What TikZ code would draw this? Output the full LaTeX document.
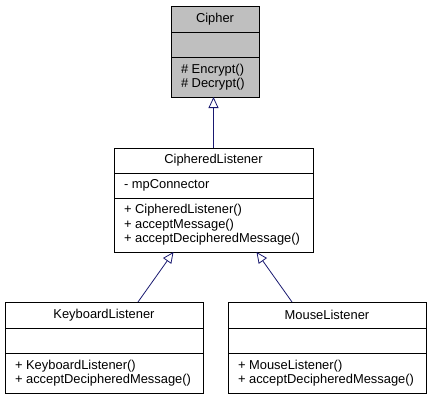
\documentclass[tikz,border=0pt]{standalone}
\usepackage{fontspec}
\setmainfont{Liberation Sans}
\usetikzlibrary{positioning, arrows.meta}
\definecolor{my_navy}{RGB}{25, 25, 112}
\definecolor{my_gray}{RGB}{191, 191, 191}
\tikzset {
  classname/.style = {draw, line width=0.8pt, fill=white, inner sep=0pt, outer sep=0pt, align=center},
  members/.style = {draw, line width=0.8pt, fill=white, inner xsep=10pt, inner ysep=0pt, outer sep=0pt, align=flush left},
  inherit/.style = {-{Triangle[open, length=11pt, width=10pt]}, line width=0.8pt, color=my_navy},
}

\begin{document}
\begin{tikzpicture}[x=1pt, y=1pt, font=\fontsize{12.9}{14.5}\selectfont]
    \useasboundingbox (0,0) rectangle (431,400);

    % base class
    \node[classname, fill=my_gray, minimum width=88pt, minimum height=26pt, anchor=north] (ciphertitle) at (215,394) {Cipher};
    \node[members, fill=my_gray, text width=68pt, minimum height=25pt, below=0pt of ciphertitle] (cipherattr) {};
    \node[members, fill=my_gray, text width=68pt, minimum height=40pt, below=0pt of cipherattr] (cipherops) {\# Encrypt()\\\# Decrypt()};

    % middle class
    \node[classname, minimum width=199pt, minimum height=25pt, anchor=north] (cltitle) at (213.5,252) {CipheredListener};
    \node[members, text width=179pt, minimum height=25pt, below=0pt of cltitle] (clattr) {- mpConnector};
    \node[members, text width=179pt, minimum height=54pt, below=0pt of clattr] (clops) {+ CipheredListener()\\+ acceptMessage()\\+ acceptDecipheredMessage()};

    % derived classes
    \node[classname, minimum width=198pt, minimum height=26pt, anchor=north] (kbtitle) at (104,98) {KeyboardListener};
    \node[members, text width=178pt, minimum height=25pt, below=0pt of kbtitle] (kbattr) {};
    \node[members, text width=178pt, minimum height=40pt, below=0pt of kbattr] (kbops) {+ KeyboardListener()\\+ acceptDecipheredMessage()};

    \node[classname, minimum width=198pt, minimum height=26pt, anchor=north] (mousetitle) at (327,98) {MouseListener};
    \node[members, text width=178pt, minimum height=25pt, below=0pt of mousetitle] (mouseattr) {};
    \node[members, text width=178pt, minimum height=40pt, below=0pt of mouseattr] (mouseops) {+ MouseListener()\\+ acceptDecipheredMessage()};

    \draw[inherit] (cltitle.north) -- (cltitle.north |- cipherops.south);
    \draw[inherit] ([xshift=34pt]kbtitle.north) -- ([xshift=-40pt]clops.south);
    \draw[inherit] ([xshift=-35pt]mousetitle.north) -- ([xshift=43pt]clops.south);

\end{tikzpicture}
\end{document}
